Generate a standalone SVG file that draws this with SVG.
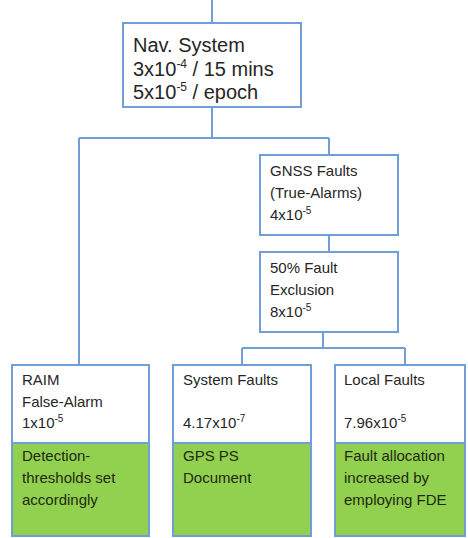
<svg xmlns="http://www.w3.org/2000/svg" width="468" height="538" viewBox="0 0 468 538">
<style>
.box{fill:#fff;stroke:#6f9fd6;stroke-width:2}
.green{fill:#92d050}
.line{fill:none;stroke:#6f9fd6;stroke-width:2}
text{font-family:"Liberation Sans",Arial,sans-serif;fill:#262626}
.big{font-size:20px}
.sm{font-size:15px}
.gt{fill:#1f2a12}
</style>
<g id="connectors">
<path class="line" d="M212 0V23"/>
<path class="line" d="M212 107V138M79 138H329M79 138V365M329 138V155"/>
<path class="line" d="M329 235V252"/>
<path class="line" d="M323 332V348M242 348H405M242 348V365M405 348V365"/>
</g>
<g id="nav">
<rect class="box" x="123" y="23" width="178" height="84"/>
<text class="big" x="133" y="52">Nav. System</text>
<text class="big" x="133" y="76">3x10<tspan dy="-8" font-size="12">-4</tspan><tspan dy="8"> / 15 mins</tspan></text>
<text class="big" x="133" y="99">5x10<tspan dy="-8" font-size="12">-5</tspan><tspan dy="8"> / epoch</tspan></text>
</g>
<g id="gnss">
<rect class="box" x="260" y="155" width="138" height="80"/>
<text class="sm" x="270" y="176">GNSS Faults</text>
<text class="sm" x="270" y="198">(True-Alarms)</text>
<text class="sm" x="270" y="220">4x10<tspan dy="-6" font-size="10">-5</tspan></text>
</g>
<g id="exclusion">
<rect class="box" x="260" y="252" width="138" height="80"/>
<text class="sm" x="270" y="273">50% Fault</text>
<text class="sm" x="270" y="295">Exclusion</text>
<text class="sm" x="270" y="317">8x10<tspan dy="-6" font-size="10">-5</tspan></text>
</g>
<g id="raim">
<rect class="box" x="12" y="365" width="137" height="171"/>
<rect class="green" x="13" y="443" width="135" height="92"/>
<line class="line" x1="12" y1="443" x2="149" y2="443" stroke-width="1"/>
<text class="sm" x="22" y="385">RAIM</text>
<text class="sm" x="22" y="407">False-Alarm</text>
<text class="sm" x="22" y="428">1x10<tspan dy="-6" font-size="10">-5</tspan></text>
<text class="sm gt" x="22" y="461">Detection-</text>
<text class="sm gt" x="22" y="483">thresholds set</text>
<text class="sm gt" x="22" y="505">accordingly</text>
</g>
<g id="system">
<rect class="box" x="173" y="365" width="138" height="171"/>
<rect class="green" x="174" y="443" width="136" height="92"/>
<line class="line" x1="173" y1="443" x2="311" y2="443" stroke-width="1"/>
<text class="sm" x="183" y="385">System Faults</text>
<text class="sm" x="183" y="428">4.17x10<tspan dy="-6" font-size="10">-7</tspan></text>
<text class="sm gt" x="183" y="461">GPS PS</text>
<text class="sm gt" x="183" y="483">Document</text>
</g>
<g id="local">
<rect class="box" x="335" y="365" width="130" height="171"/>
<rect class="green" x="336" y="443" width="128" height="92"/>
<line class="line" x1="335" y1="443" x2="465" y2="443" stroke-width="1"/>
<text class="sm" x="344" y="385">Local Faults</text>
<text class="sm" x="344" y="428">7.96x10<tspan dy="-6" font-size="10">-5</tspan></text>
<text class="sm gt" x="344" y="461">Fault allocation</text>
<text class="sm gt" x="344" y="483">increased by</text>
<text class="sm gt" x="344" y="505">employing FDE</text>
</g>
</svg>
